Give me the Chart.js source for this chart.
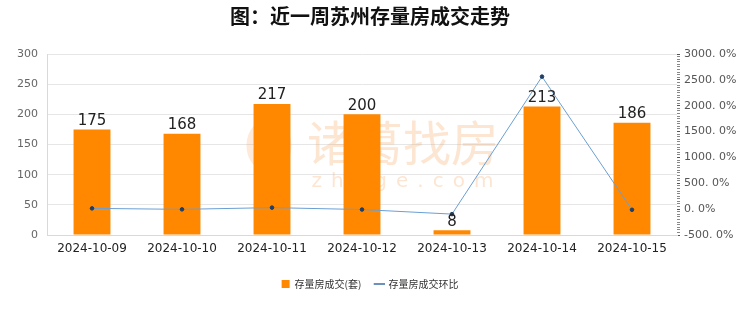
<!DOCTYPE html>
<html>
<head>
<meta charset="utf-8">
<script src="https://cdn.jsdelivr.net/npm/chart.js@4/dist/chart.umd.min.js"></script>
<style>
  html, body { margin: 0; padding: 0; background: #fff; }
  #wrap { width: 740px; height: 312px; }
</style>
</head>
<body>
<div id="wrap"><canvas id="chart"></canvas></div>
<script>
const dates = ['2024-10-09', '2024-10-10', '2024-10-11', '2024-10-12', '2024-10-13', '2024-10-14', '2024-10-15'];
const deals = [175, 168, 217, 200, 8, 213, 186];
const momPct = [15, -4, 29.2, -7.8, -96, 2562.5, -12.7];
const leftTicks = [0, 50, 100, 150, 200, 250, 300];
const rightRange = [-500, 3000];

const CJK = "'Noto Sans CJK SC', 'DejaVu Sans', sans-serif";
const NUM = "'DejaVu Sans', sans-serif";

// faint watermark behind the bars
const watermark = {
    id: 'watermark',
    beforeDatasetsDraw(chart) {
        const { ctx, chartArea: a } = chart;
        const cx = a.left + a.width * 0.565;
        const cy = a.top + a.height * 0.5;
        ctx.save();
        ctx.fillStyle = 'rgba(246, 160, 90, 0.28)';
        ctx.textAlign = 'center';
        ctx.textBaseline = 'middle';
        ctx.font = "48px " + CJK;
        ctx.fillText('诸葛找房', cx, cy - 2);
        ctx.font = "20px " + NUM;
        ctx.letterSpacing = '9px';
        ctx.fillText('zhuge.com', cx + 4, cy + 37);
        ctx.letterSpacing = '0px';
        ctx.strokeStyle = 'rgba(246, 160, 90, 0.22)';
        ctx.lineWidth = 7;
        ctx.beginPath();
        ctx.ellipse(cx - 134, cy + 1, 19, 23, 0, 0, Math.PI * 2);
        ctx.stroke();
        ctx.restore();
    }
};

// value labels above the bars
const barLabels = {
    id: 'barLabels',
    afterDatasetsDraw(chart) {
        const { ctx } = chart;
        const meta = chart.getDatasetMeta(1);
        ctx.save();
        ctx.fillStyle = '#222';
        ctx.font = "15px " + NUM;
        ctx.textAlign = 'center';
        ctx.textBaseline = 'bottom';
        meta.data.forEach((bar, i) => {
            ctx.fillText(deals[i], bar.x, bar.y - 1);
        });
        ctx.restore();
    }
};

new Chart(document.getElementById('chart'), {
    data: {
        labels: dates,
        datasets: [
            {
                type: 'line',
                label: '存量房成交环比',
                data: momPct,
                yAxisID: 'y1',
                borderColor: '#6a9fd4',
                backgroundColor: '#1f3f66',
                borderWidth: 1,
                pointRadius: 1.8,
                pointHoverRadius: 1.8,
                pointBackgroundColor: '#1f3f66',
                pointBorderColor: '#1f3f66',
                pointStyle: 'circle',
                tension: 0,
                order: 0
            },
            {
                type: 'bar',
                label: '存量房成交(套)',
                data: deals,
                yAxisID: 'y',
                backgroundColor: '#ff8800',
                borderWidth: 0,
                barPercentage: 0.41,
                categoryPercentage: 1,
                order: 1
            }
        ]
    },
    options: {
        responsive: true,
        maintainAspectRatio: false,
        animation: false,
        layout: { padding: { left: 0, right: 0, top: 0, bottom: 13 } },
        plugins: {
            title: {
                display: true,
                text: '图：近一周苏州存量房成交走势',
                color: '#111',
                font: { family: CJK, size: 20, weight: 'bold' },
                padding: { top: 4, bottom: 26 }
            },
            legend: {
                position: 'bottom',
                reverse: true,
                labels: {
                    color: '#333',
                    font: { family: CJK, size: 10 },
                    usePointStyle: true,
                    boxWidth: 8,
                    boxHeight: 8,
                    padding: 14,
                    generateLabels(chart) {
                        return chart.data.datasets.map((ds, i) => ({
                            text: ds.label,
                            fillStyle: ds.type === 'bar' ? '#ff8800' : '#1f3f66',
                            strokeStyle: ds.type === 'bar' ? '#ff8800' : '#3a6ea5',
                            lineWidth: ds.type === 'bar' ? 0 : 1.5,
                            pointStyle: ds.type === 'bar' ? 'rect' : 'line',
                            datasetIndex: i,
                            hidden: false,
                            fontColor: '#333'
                        }));
                    }
                }
            },
            tooltip: { enabled: false }
        },
        scales: {
            x: {
                grid: { display: false, drawTicks: false },
                border: { color: '#d9d9d9' },
                ticks: { color: '#222', font: { family: NUM, size: 12 }, padding: 7, maxRotation: 0 },
                afterFit(s) { s.height = 30; }
            },
            y: {
                position: 'left',
                min: leftTicks[0],
                max: leftTicks[leftTicks.length - 1],
                afterBuildTicks(s) { s.ticks = leftTicks.map(v => ({ value: v })); },
                grid: { color: '#e6e6e6', drawTicks: false },
                border: { color: '#d9d9d9' },
                ticks: { color: '#666', font: { family: NUM, size: 11 }, padding: 9 },
                afterFit(s) { s.width = 47; }
            },
            y1: {
                position: 'right',
                min: rightRange[0],
                max: rightRange[1],
                grid: {
                    drawOnChartArea: false,
                    drawTicks: true,
                    tickLength: 3,
                    tickWidth: 1,
                    tickColor: ctx => (ctx.tick && ctx.tick.value % 500 === 0) ? '#555' : '#888'
                },
                border: { display: false },
                ticks: {
                    stepSize: 50,
                    maxTicksLimit: 200,
                    autoSkip: false,
                    color: '#555',
                    font: { family: NUM, size: 11 },
                    padding: 4,
                    callback: v => (v % 500 === 0) ? v + '. 0%' : ''
                },
                afterFit(s) { s.width = 63; }
            }
        }
    },
    plugins: [watermark, barLabels]
});
</script>
</body>
</html>
